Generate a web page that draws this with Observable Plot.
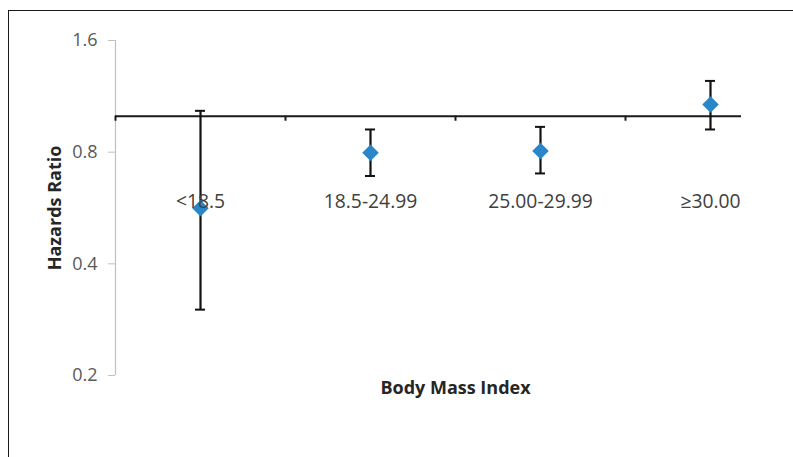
<!DOCTYPE html>
<html>
<head>
<meta charset="utf-8">
<script src="https://cdn.jsdelivr.net/npm/d3@7"></script>
<script src="https://cdn.jsdelivr.net/npm/@observablehq/plot@0.6"></script>
<style>
  html, body { margin: 0; padding: 0; background: #fff; overflow: hidden; }
  #frame { position: absolute; left: 8px; top: 10px; width: 820px; height: 480px;
           border-top: 1px solid #1a1a1a; border-left: 1px solid #1a1a1a; }
  #chart { position: absolute; left: 0; top: 0; }
</style>
</head>
<body>
<div id="frame"></div>
<div id="chart"></div>
<script>
// Data
const categories = ["<18.5", "18.5-24.99", "25.00-29.99", "≥30.00"];
const hazardRatio = [0.565, 0.797, 0.806, 1.075];
const lowerCI = [0.301, 0.690, 0.701, 0.921];
const upperCI = [1.034, 0.921, 0.936, 1.245];
const yTicks = [0.2, 0.4, 0.8, 1.6];
const referenceValue = [1];
const categoryBoundaries = [0, 1, 2, 3];

const rows = categories.map((c, i) => ({
  cat: c, pos: i + 0.5, hr: hazardRatio[i], lo: lowerCI[i], hi: upperCI[i]
}));

const chart = Plot.plot({
  width: 793,
  height: 457,
  marginLeft: 115,
  marginRight: 52,
  marginTop: 40,
  marginBottom: 82,
  style: { fontFamily: "'Open Sans', sans-serif", fontSize: "18px", background: "transparent", color: "#595959" },
  x: { type: "linear", domain: [0, categories.length], range: [115, 795], axis: null },
  y: { type: "log", domain: [0.2, 1.6] },
  marks: [
    Plot.ruleX([0], { stroke: "#c0c0c0", strokeWidth: 1.2 }),
    Plot.axisY({
      ticks: yTicks, tickFormat: d => d.toFixed(1), tickSize: 7, tickPadding: 11,
      stroke: "#c0c0c0", fill: "#595959", label: null
    }),
    Plot.ruleY(referenceValue, { stroke: "#1a1a1a", strokeWidth: 2 }),
    Plot.ruleX(categoryBoundaries, { y1: 1, y2: 1, insetBottom: -5, stroke: "#1a1a1a", strokeWidth: 2 }),
    Plot.ruleX(rows, { x: "pos", y1: "lo", y2: "hi", stroke: "#111", strokeWidth: 2.2 }),
    Plot.ruleY(rows, { y: "lo", x1: "pos", x2: "pos", insetLeft: -5, insetRight: -5, stroke: "#111", strokeWidth: 2 }),
    Plot.ruleY(rows, { y: "hi", x1: "pos", x2: "pos", insetLeft: -5, insetRight: -5, stroke: "#111", strokeWidth: 2 }),
    Plot.dot(rows, { x: "pos", y: "hr", symbol: "square", r: 6.6, rotate: 45, fill: "#2a86c8", stroke: "none" }),
    Plot.text(rows, { x: "pos", y: 1, text: "cat", dy: 86, fill: "#404040", fontSize: 19.3 }),
    Plot.text(["Body Mass Index"], { x: categories.length / 2, frameAnchor: "bottom", dy: 18, fill: "#262626", fontWeight: "bold", fontSize: 18 }),
    Plot.text(["Hazards Ratio"], { frameAnchor: "left", textAnchor: "middle", dx: -60, rotate: -90, fill: "#262626", fontWeight: "bold", fontSize: 18 })
  ]
});
document.getElementById("chart").appendChild(chart);
</script>
</body>
</html>
